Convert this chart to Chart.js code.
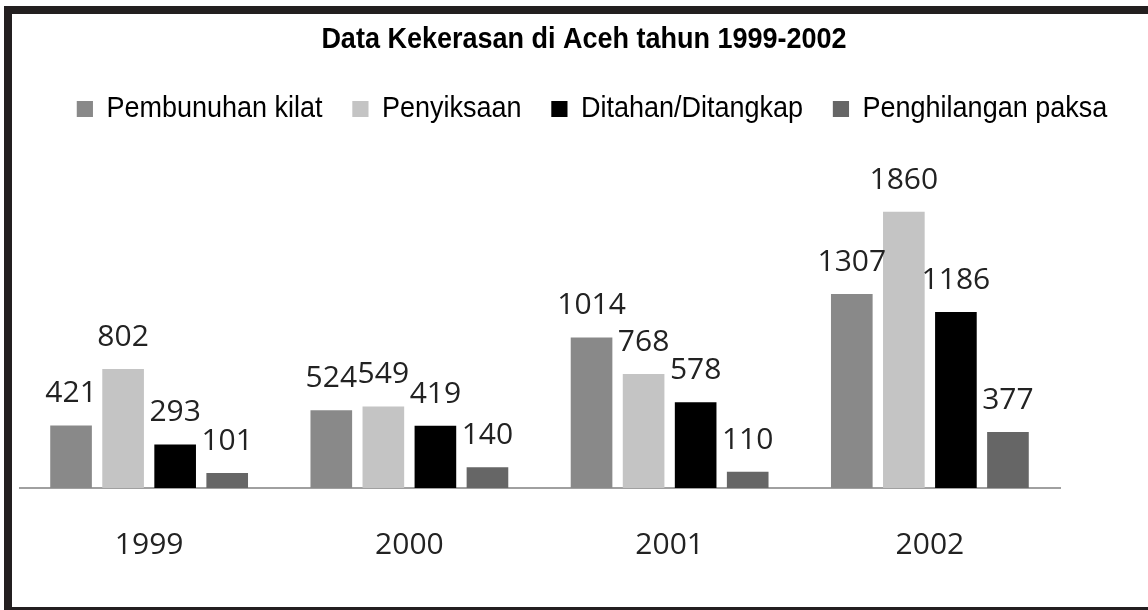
<!DOCTYPE html>
<html lang="id">
  <head>
    <meta charset="UTF-8" />
    <title>Data Kekerasan di Aceh</title>
    <script src="https://cdn.jsdelivr.net/npm/chart.js@4.4.1/dist/chart.umd.min.js"></script>
    <style>
      html, body { margin: 0; padding: 0; background: #fff; overflow: hidden; }
      body { width: 1148px; height: 610px; position: relative; }
      .frame {
        position: absolute; left: 4px; top: 6px; width: 1300px; height: 609px;
        box-sizing: border-box; border: 8px solid #231f20;
      }
      #chart { position: absolute; left: 19px; top: 14px; }
    </style>
  </head>
  <body>
    <div class="frame"></div>
    <canvas id="chart" width="1130" height="598"></canvas>

    <script>
      const years = ['1999', '2000', '2001', '2002'];
      const pembunuhan = [421, 524, 1014, 1307];
      const penyiksaan = [802, 549, 768, 1860];
      const ditahan = [293, 419, 578, 1186];
      const penghilangan = [101, 140, 110, 377];

      // no narrow font installed, so squeeze Liberation Sans sideways
      const NARROW = 0.9;

      // value labels over each bar
      const barLabels = {
        id: 'barLabels',
        afterDatasetsDraw(chart) {
          const ctx = chart.ctx;
          ctx.save();
          ctx.font = '30px "Open Sans"';
          ctx.fillStyle = '#222';
          ctx.textAlign = 'center';
          ctx.textBaseline = 'alphabetic';
          chart.data.datasets.forEach((ds, i) => {
            chart.getDatasetMeta(i).data.forEach((bar, j) => {
              ctx.fillText(ds.data[j], bar.x, bar.y - 23);
            });
          });
          ctx.restore();
        }
      };

      const narrowHeader = {
        id: 'narrowHeader',
        beforeInit(chart) {
          const title = chart.titleBlock;
          const drawTitle = title.draw;
          title.draw = function () {
            const ctx = this.ctx;
            const cx = (this.left + this.right) / 2;
            ctx.save();
            ctx.translate(cx, 0);
            ctx.scale(NARROW, 1);
            ctx.translate(-cx, 0);
            drawTitle.call(this);
            ctx.restore();
          };

          const legend = chart.legend;
          const fitLegend = legend.fit;
          legend.fit = function () {
            const mw = this.maxWidth;
            this.maxWidth = mw / NARROW;
            fitLegend.call(this);
            this.maxWidth = mw;
            this.width = mw;
            this.height += 57; // room under the legend
          };
          const drawLegend = legend.draw;
          legend.draw = function () {
            const ctx = this.ctx;
            const l = this.left, r = this.right;
            const cx = (l + r) / 2;
            this.left = cx - (cx - l) / NARROW;
            this.right = cx + (r - cx) / NARROW;
            ctx.save();
            ctx.translate(cx + 8, 0);
            ctx.scale(NARROW, 1);
            ctx.translate(-cx, 0);
            drawLegend.call(this);
            ctx.restore();
            this.left = l;
            this.right = r;
          };
        }
      };

      new Chart(document.getElementById('chart'), {
        type: 'bar',
        data: {
          labels: years,
          datasets: [
            { label: 'Pembunuhan kilat', data: pembunuhan, backgroundColor: '#898989' },
            { label: 'Penyiksaan', data: penyiksaan, backgroundColor: '#c4c4c4' },
            { label: 'Ditahan/Ditangkap', data: ditahan, backgroundColor: '#000000' },
            { label: 'Penghilangan paksa', data: penghilangan, backgroundColor: '#666666' }
          ]
        },
        options: {
          responsive: false,
          animation: false,
          datasets: { bar: { barPercentage: 0.8, categoryPercentage: 0.8 } },
          layout: { padding: { left: 0, right: 0, top: 0, bottom: 10 } },
          plugins: {
            title: {
              display: true,
              text: 'Data Kekerasan di Aceh tahun 1999-2002',
              color: '#000',
              font: { family: '"Liberation Sans", Arial, sans-serif', size: 30, weight: 'bold', lineHeight: 1 },
              padding: { top: 11, bottom: 6 }
            },
            legend: {
              position: 'top',
              labels: {
                boxWidth: 18,
                boxHeight: 16,
                padding: 33,
                color: '#000',
                font: { family: '"Liberation Sans", Arial, sans-serif', size: 30 }
              }
            },
            tooltip: { enabled: false }
          },
          scales: {
            x: {
              grid: { display: false, drawTicks: false },
              border: { display: true, color: '#a0a0a0', width: 2 },
              ticks: {
                color: '#222',
                padding: 39,
                font: { family: '"Open Sans"', size: 30 }
              }
            },
            y: {
              position: 'right',
              min: 0,
              max: 2000,
              grid: { display: false },
              border: { display: false },
              ticks: { display: false },
              afterFit(scale) { scale.width = 89; }
            }
          }
        },
        plugins: [barLabels, narrowHeader]
      });
    </script>
  </body>
</html>
